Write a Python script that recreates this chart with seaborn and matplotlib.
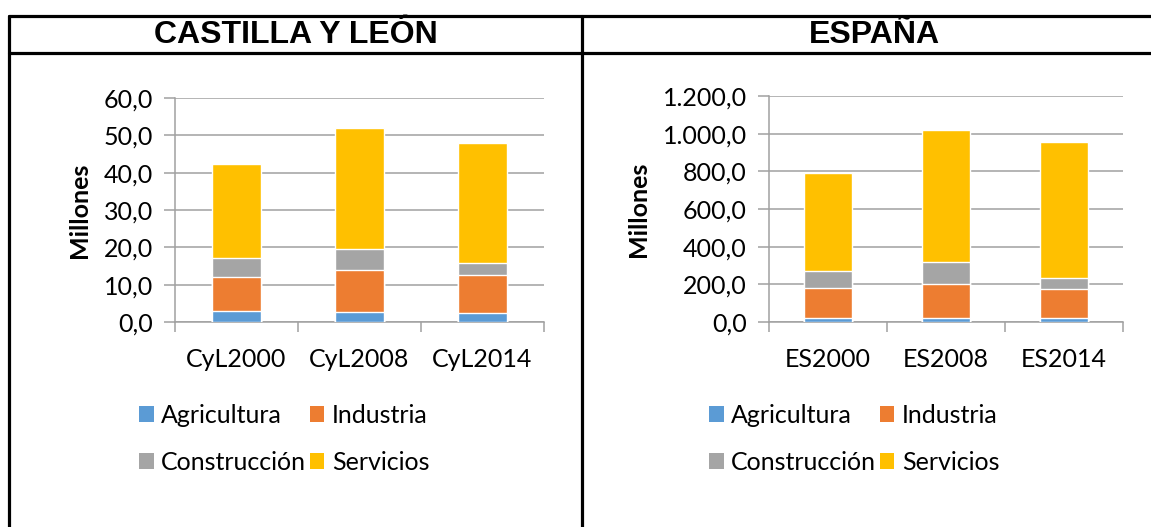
import matplotlib
matplotlib.use("Agg")
import matplotlib.pyplot as plt
from matplotlib.patches import Patch
from matplotlib.lines import Line2D
from matplotlib.ticker import FuncFormatter, FixedLocator
import seaborn as sns
import numpy as np

# datos (millones)
sectores = ["Agricultura", "Industria", "Construcción", "Servicios"]
colores = ["#5B9BD5", "#ED7D31", "#A5A5A5", "#FFC000"]

cyl_cats = ["CyL2000", "CyL2008", "CyL2014"]
cyl_agri = [2.9, 2.7, 2.5]
cyl_ind = [9.2, 11.3, 10.0]
cyl_cons = [5.0, 5.5, 3.2]
cyl_serv = [25.1, 32.5, 32.3]

es_cats = ["ES2000", "ES2008", "ES2014"]
es_agri = [21, 21, 21]
es_ind = [160, 183, 155]
es_cons = [92, 112, 58]
es_serv = [516, 705, 722]

sns.set_theme(style="white")
plt.rcParams["font.family"] = ["Lato", "DejaVu Sans"]
plt.rcParams["text.color"] = "black"
plt.rcParams["axes.labelcolor"] = "black"

W, H = 1151, 527
FS = 18
fig = plt.figure(figsize=(W / 100, H / 100), dpi=100)


def fmt_es(v, pos):
    s = f"{v:,.1f}"
    return s.replace(",", "X").replace(".", ",").replace("X", ".")


def stacked(ax, cats, series, ymax, step):
    tot = np.cumsum(np.array(series), axis=0)
    # dibujar de arriba abajo para que se vea apilado
    for i in range(len(series) - 1, -1, -1):
        sns.barplot(x=cats, y=tot[i], color=colores[i], width=0.4,
                    saturation=1, ax=ax, zorder=3)
    ax.set_xlim(-0.5, len(cats) - 0.5)
    ax.set_ylim(0, ymax)
    ax.set_yticks(np.arange(0, ymax + step / 2, step))
    ax.yaxis.set_major_formatter(FuncFormatter(fmt_es))
    ax.grid(axis="y", color="#a0a0a0", linewidth=1.1, zorder=0)
    ax.set_axisbelow(True)
    for s in ["top", "right"]:
        ax.spines[s].set_visible(False)
    for s in ["left", "bottom"]:
        ax.spines[s].set_color("#a0a0a0")
        ax.spines[s].set_linewidth(1.1)
    ax.xaxis.set_minor_locator(FixedLocator(np.arange(-0.5, len(cats), 1.0)))
    ax.tick_params(axis="x", which="major", length=0, pad=19, labelsize=FS,
                   labelcolor="black")
    ax.tick_params(axis="x", which="minor", length=7, color="#a0a0a0",
                   width=1.1, bottom=True)
    ax.tick_params(axis="y", length=8, color="#a0a0a0", width=1.1, left=True,
                   pad=8, labelsize=FS, labelcolor="black")
    ax.set_xlabel("")
    ax.set_ylabel("Millones", fontsize=FS, fontweight="bold", labelpad=9)


def box(px_l, px_r, px_t, px_b):
    return [px_l / W, 1 - px_b / H, (px_r - px_l) / W, (px_b - px_t) / H]


ax1 = fig.add_axes(box(175, 544, 98, 322))
stacked(ax1, cyl_cats, [cyl_agri, cyl_ind, cyl_cons, cyl_serv], 60, 10)

ax2 = fig.add_axes(box(769, 1123, 96, 322))
stacked(ax2, es_cats, [es_agri, es_ind, es_cons, es_serv], 1200, 200)

# leyendas (orden por filas)
handles = [Patch(facecolor=c, edgecolor="none") for c in colores]
order = [0, 2, 1, 3]
for ax, x0 in [(ax1, 139), (ax2, 709)]:
    ax.legend([handles[i] for i in order], [sectores[i] for i in order],
              ncol=2, loc="upper left", bbox_to_anchor=(x0 / W, 1 - 404 / H),
              bbox_transform=fig.transFigure, frameon=False, fontsize=FS,
              handlelength=0.58, handleheight=0.58, handletextpad=0.3,
              columnspacing=0.15, labelspacing=0.95, borderpad=0,
              borderaxespad=0)

# titulos
fig.text(295.5 / W, 1 - 35 / H, "CASTILLA Y LEÓN", ha="center", va="center",
         fontsize=23, fontweight="bold", family="Liberation Sans")
fig.text(874 / W, 1 - 35 / H, "ESPAÑA", ha="center", va="center",
         fontsize=23, fontweight="bold", family="Liberation Sans")

# bordes de la tabla
lw = 2.3
for xs, ys in [([9, 9], [16, H]), ([582, 582], [16, H]),
               ([9, W], [16, 16]), ([9, W], [53, 53])]:
    fig.add_artist(Line2D([x / W for x in xs], [1 - y / H for y in ys],
                          color="black", linewidth=lw,
                          transform=fig.transFigure))

fig.savefig("out.png", dpi=100)
